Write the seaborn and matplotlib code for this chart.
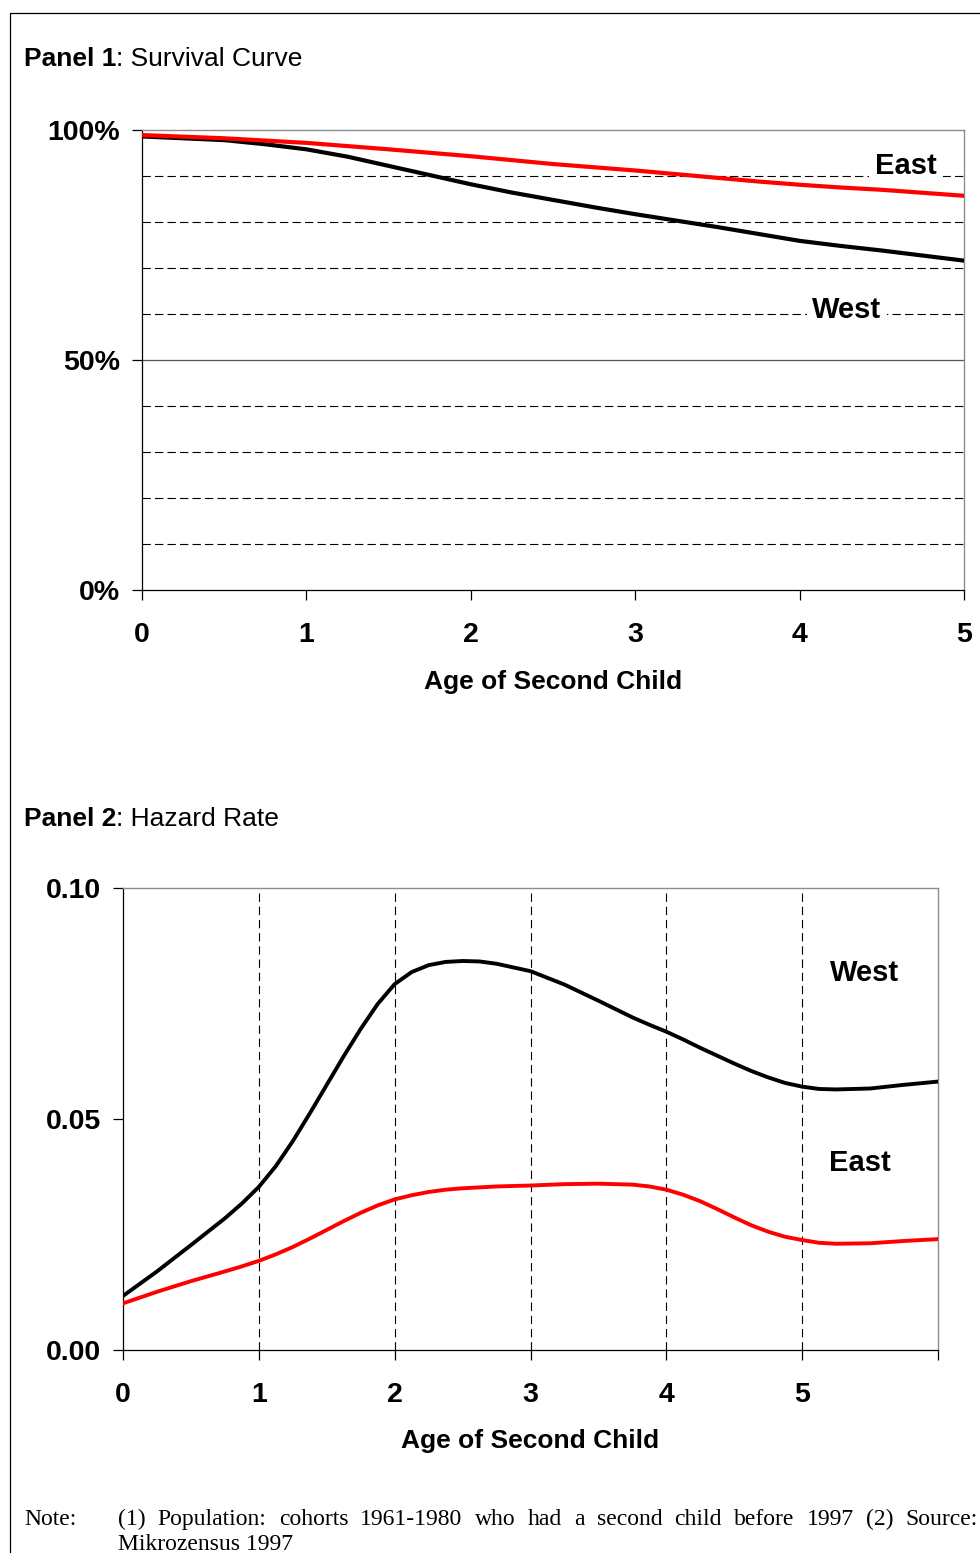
import numpy as np
import pandas as pd
import matplotlib
matplotlib.use("Agg")
import matplotlib.pyplot as plt
from matplotlib.lines import Line2D
import seaborn as sns

# ---------------- data ----------------
age_surv = [0, 0.25, 0.5, 0.75, 1, 1.25, 1.5, 1.75, 2, 2.25, 2.5, 2.75, 3,
            3.25, 3.5, 3.75, 4, 4.25, 4.5, 4.75, 5]
west_surv = [98.6, 98.2, 97.8, 96.9, 95.8, 94.2, 92.2, 90.2, 88.2, 86.4,
             84.8, 83.2, 81.7, 80.3, 78.9, 77.4, 75.9, 74.8, 73.8, 72.7, 71.6]
east_surv = [98.9, 98.55, 98.2, 97.7, 97.2, 96.5, 95.8, 95.05, 94.3, 93.45,
             92.6, 91.9, 91.2, 90.4, 89.6, 88.8, 88.1, 87.5, 87.0, 86.35, 85.7]

age_haz = [0, 0.25, 0.5, 0.75, 0.875, 1, 1.125, 1.25, 1.375, 1.5, 1.625,
           1.75, 1.875, 2, 2.125, 2.25, 2.375, 2.5, 2.625, 2.75, 3, 3.25,
           3.5, 3.75, 3.875, 4, 4.125, 4.25, 4.375, 4.5, 4.625, 4.75, 4.875,
           5, 5.125, 5.25, 5.5, 5.75, 6]
west_haz = [0.0117, 0.0170, 0.0227, 0.0285, 0.0317, 0.0353, 0.0398, 0.0452,
            0.0512, 0.0574, 0.0636, 0.0695, 0.0749, 0.0792, 0.0818, 0.0833,
            0.0840, 0.0842, 0.0841, 0.0836, 0.0820, 0.0791, 0.0756, 0.0720,
            0.0704, 0.0689, 0.0672, 0.0654, 0.0637, 0.0620, 0.0604, 0.0590,
            0.0578, 0.0570, 0.0565, 0.0564, 0.0566, 0.0574, 0.0581]
east_haz = [0.0101, 0.0126, 0.0149, 0.0170, 0.0181, 0.0193, 0.0207, 0.0223,
            0.0241, 0.0260, 0.0279, 0.0297, 0.0313, 0.0326, 0.0335, 0.0342,
            0.0347, 0.0350, 0.0352, 0.0354, 0.0356, 0.0359, 0.0360, 0.0358,
            0.0354, 0.0347, 0.0336, 0.0322, 0.0305, 0.0287, 0.0270, 0.0256,
            0.0245, 0.0238, 0.0232, 0.0230, 0.0231, 0.0236, 0.0240]

surv_yticks = [0, 50, 100]
surv_ytick_labels = ["0%", "50%", "100%"]
surv_xticks = [0, 1, 2, 3, 4, 5]
haz_yticks = [0.0, 0.05, 0.10]
haz_ytick_labels = ["0.00", "0.05", "0.10"]
haz_xticks = [0, 1, 2, 3, 4, 5, 6]
haz_xtick_labels = ["0", "1", "2", "3", "4", "5", ""]

xlabel_text = "Age of Second Child"
note_line1 = "(1) Population: cohorts 1961-1980 who had a second child before 1997 (2) Source:"
note_line2 = "Mikrozensus 1997"

# ---------------- style ----------------
sns.set_style("white")
plt.rcParams["font.family"] = ["Liberation Sans", "DejaVu Sans"]
plt.rcParams["lines.scale_dashes"] = False
plt.rcParams["text.color"] = "black"
plt.rcParams["axes.labelcolor"] = "black"
plt.rcParams["xtick.color"] = "black"
plt.rcParams["ytick.color"] = "black"
plt.rcParams["lines.solid_joinstyle"] = "round"

W, H = 980, 1553
fig = plt.figure(figsize=(W / 100, H / 100), dpi=100)
fig.patch.set_facecolor("white")

def fx(px):
    return px / W

def fy(py):
    return 1 - py / H

# outer frame (left and top)
fig.add_artist(Line2D([fx(9.5), fx(9.5)], [fy(12.5), 0], color="black", lw=0.9))
fig.add_artist(Line2D([fx(9.5), 1], [fy(12.5), fy(12.5)], color="black", lw=0.9))

RED = "#FF0000"
TICK_FS = 20.5
LBL_FS = 19

def style_axes(ax):
    for s in ["left", "bottom"]:
        ax.spines[s].set_color("black")
        ax.spines[s].set_linewidth(0.9)
    for s in ["top", "right"]:
        ax.spines[s].set_color("#8c8c8c")
        ax.spines[s].set_linewidth(1.0)
        ax.spines[s].set_visible(True)
    ax.tick_params(axis="both", direction="out", length=7, width=0.9,
                   color="black", labelcolor="black", labelsize=TICK_FS,
                   bottom=True, left=True, top=False, right=False)
    ax.tick_params(axis="y", pad=9)
    ax.tick_params(axis="x", pad=16)
    for lab in ax.get_xticklabels() + ax.get_yticklabels():
        lab.set_fontweight("bold")
    ax.set_facecolor("white")
    ax.grid(False)

# ---------------- Panel 1 ----------------
ax1 = fig.add_axes([fx(142), fy(590), fx(964) - fx(142), (590 - 130) / H])
df1 = pd.DataFrame({"age": age_surv * 2,
                    "value": west_surv + east_surv,
                    "region": ["West"] * len(age_surv) + ["East"] * len(age_surv)})
for yv in [10, 20, 30, 40, 60, 70, 80, 90]:
    ax1.axhline(yv, color="black", lw=0.8, dashes=(6, 3), zorder=1)
ax1.axhline(50, color="#555555", lw=0.9, zorder=1)
sns.lineplot(data=df1, x="age", y="value", hue="region",
             palette={"West": "black", "East": RED}, linewidth=3.0,
             legend=False, ax=ax1, zorder=3, hue_order=["West", "East"])
ax1.set_xlim(0, 5)
ax1.set_ylim(0, 100)
ax1.set_xticks(surv_xticks)
ax1.set_xticklabels([str(v) for v in surv_xticks])
ax1.set_yticks(surv_yticks)
ax1.set_yticklabels(surv_ytick_labels)
ax1.set_ylabel("")
ax1.set_xlabel(xlabel_text, fontsize=LBL_FS, fontweight="bold", labelpad=16,
               color="black")
style_axes(ax1)
bbox_w = dict(facecolor="white", edgecolor="none", boxstyle="square,pad=0.2")
ax1.text(4.647, 92.2, "East", fontsize=21, fontweight="bold", ha="center",
         va="center", bbox=bbox_w, zorder=2)
ax1.text(4.288, 60.9, "West", fontsize=21, fontweight="bold", ha="center",
         va="center", bbox=bbox_w, zorder=2)

# ---------------- Panel 2 ----------------
ax2 = fig.add_axes([fx(123), fy(1350), fx(938) - fx(123), (1350 - 888) / H])
df2 = pd.DataFrame({"age": age_haz * 2,
                    "value": west_haz + east_haz,
                    "region": ["West"] * len(age_haz) + ["East"] * len(age_haz)})
for xv in [1, 2, 3, 4, 5]:
    ax2.axvline(xv, color="black", lw=0.8, dashes=(6, 3.5), zorder=1)
sns.lineplot(data=df2, x="age", y="value", hue="region",
             palette={"West": "black", "East": RED}, linewidth=2.8,
             legend=False, ax=ax2, zorder=3, hue_order=["West", "East"])
ax2.set_xlim(0, 6)
ax2.set_ylim(0, 0.10)
ax2.set_xticks(haz_xticks)
ax2.set_xticklabels(haz_xtick_labels)
ax2.set_yticks(haz_yticks)
ax2.set_yticklabels(haz_ytick_labels)
ax2.set_ylabel("")
ax2.set_xlabel(xlabel_text, fontsize=LBL_FS, fontweight="bold", labelpad=15,
               color="black")
style_axes(ax2)
ax2.text(5.457, 0.0816, "West", fontsize=21, fontweight="bold", ha="center",
         va="center", zorder=2)
ax2.text(5.427, 0.0405, "East", fontsize=21, fontweight="bold", ha="center",
         va="center", zorder=2)

# ---------------- titles ----------------
renderer = fig.canvas.get_renderer()

def panel_title(bold, rest, base_py):
    t1 = fig.text(fx(24), fy(base_py), bold, fontsize=LBL_FS, fontweight="bold",
                  ha="left", va="baseline")
    w = t1.get_window_extent(renderer).width
    fig.text(fx(24) + w / W, fy(base_py), rest, fontsize=LBL_FS,
             ha="left", va="baseline")

panel_title("Panel 1", ": Survival Curve", 66)
panel_title("Panel 2", ": Hazard Rate", 826)

# ---------------- note (justified) ----------------
SERIF = ["Liberation Serif", "DejaVu Serif"]
NOTE_FS = 17
fig.text(fx(24), fy(1525), "Note:", fontsize=NOTE_FS, family=SERIF,
         ha="left", va="baseline")
words = note_line1.split(" ")
left_px, right_px = 118, 978
objs = [fig.text(0, fy(1525), wd, fontsize=NOTE_FS, family=SERIF,
                 ha="left", va="baseline") for wd in words]
widths = [o.get_window_extent(renderer).width for o in objs]
gap = (right_px - left_px - sum(widths)) / (len(words) - 1)
xpos = left_px
for o, wdt in zip(objs, widths):
    o.set_x(fx(xpos))
    xpos += wdt + gap
fig.text(fx(118), fy(1550), note_line2, fontsize=NOTE_FS, family=SERIF,
         ha="left", va="baseline")

fig.savefig("out.png", dpi=100, facecolor="white")
